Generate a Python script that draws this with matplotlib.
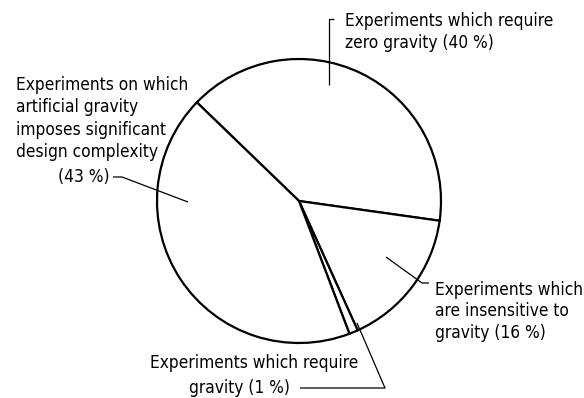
import matplotlib
matplotlib.use("Agg")
import matplotlib.pyplot as plt
from matplotlib import font_manager as fm

# ---- data ----
categories = [
    "Experiments which require zero gravity",
    "Experiments which are insensitive to gravity",
    "Experiments which require gravity",
    "Experiments on which artificial gravity imposes significant design complexity",
]
values = [40, 16, 1, 43]

label_zero = ["Experiments which require", "zero gravity (40 %)"]
label_art = ["Experiments on which", "artificial gravity", "imposes significant", "design complexity"]
label_art_pct = "(43 %)"
label_ins = ["Experiments which", "are insensitive to", "gravity (16 %)"]
label_req = ["Experiments which require", "gravity (1 %)"]

# ---- font ----
cond = [f for f in fm.fontManager.ttflist
        if f.name == "DejaVu Sans" and "ondensed" in f.fname
        and "Bold" not in f.fname and "Oblique" not in f.fname]
names = {f.name for f in fm.fontManager.ttflist}
if cond:
    fp = fm.FontProperties(fname=cond[0].fname, size=12.4)
elif "Liberation Sans Narrow" in names:
    fp = fm.FontProperties(family="Liberation Sans Narrow", size=13.5)
else:
    fp = fm.FontProperties(family="DejaVu Sans", size=11.3)

W, H = 584, 398
fig = plt.figure(figsize=(W / 100, H / 100), dpi=100)
ax = fig.add_axes([0, 0, 1, 1])


def P(x, y):
    return (x, H - y)


cx, cy = P(299, 201)
ax.pie(values, startangle=136, counterclock=False, center=(cx, cy), radius=142,
       wedgeprops=dict(facecolor="white", edgecolor="black", linewidth=1.6),
       frame=False)
ax.set_xlim(0, W)
ax.set_ylim(0, H)
ax.set_aspect("auto")
ax.axis("off")

LW = 0.9


def line(pts):
    xs = [P(*p)[0] for p in pts]
    ys = [P(*p)[1] for p in pts]
    ax.plot(xs, ys, color="black", lw=LW, solid_capstyle="butt")


def txt(x, y, s, ha="left"):
    ax.text(*P(x, y), s, fontproperties=fp, ha=ha, va="center", color="black")


# zero gravity
for i, s in enumerate(label_zero):
    txt(345, 21 + 22 * i, s)
line([(334, 19), (329, 19), (329, 85)])

# artificial gravity
for i, s in enumerate(label_art):
    txt(16, 85 + 22.3 * i, s)
txt(109, 177, label_art_pct, ha="right")
line([(113, 177), (122, 177), (188, 202)])

# insensitive
for i, s in enumerate(label_ins):
    txt(435, 290 + 21.5 * i, s)
line([(386, 257), (422, 283), (429, 283)])

# require gravity
txt(150, 363, label_req[0])
txt(290, 388, label_req[1], ha="right")
line([(357, 323), (385, 388), (300, 388)])

fig.savefig("out.png", dpi=100)
